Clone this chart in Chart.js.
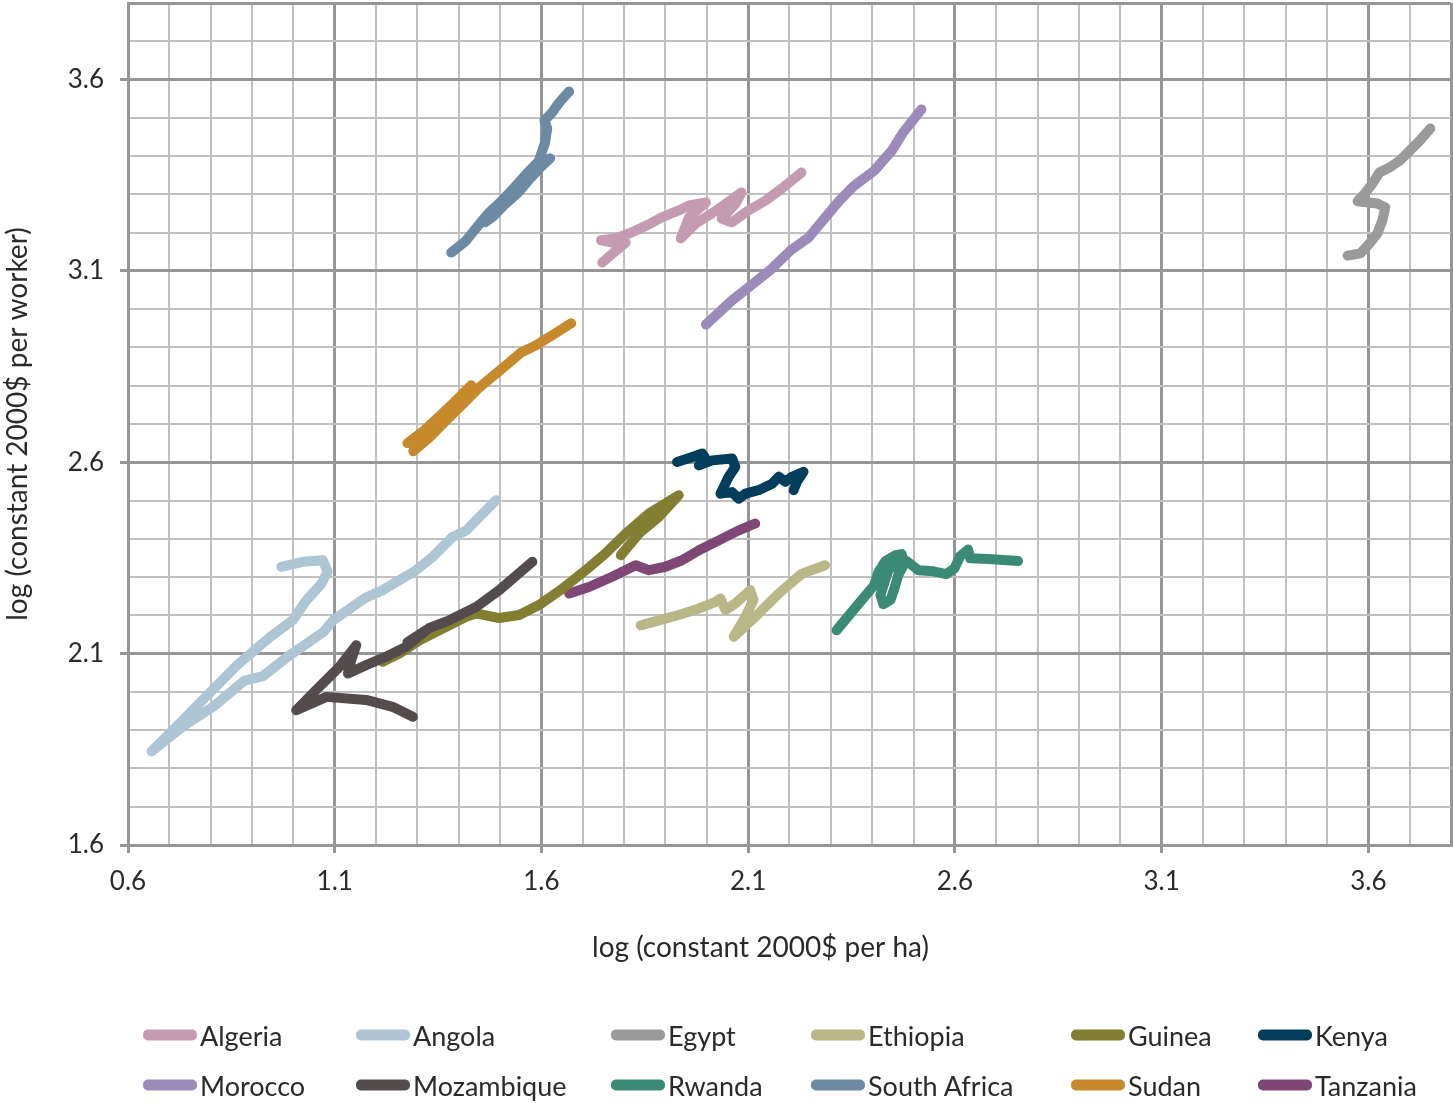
<!DOCTYPE html>
<html>
<head>
<meta charset="utf-8">
<script src="https://cdn.jsdelivr.net/npm/chart.js@4.4.1/dist/chart.umd.min.js"></script>
<style>
  html, body { margin: 0; padding: 0; background: #ffffff; }
  #wrap { position: relative; width: 1453px; height: 1103px; }
  #legend .item {
    position: absolute; display: flex; align-items: center;
    font: 27px Lato, "Noto Sans", sans-serif; color: #2a2a2a; white-space: nowrap;
    transform: translateY(-50%);
  }
  #legend .swatch { width: 54px; height: 11px; border-radius: 5px; margin-right: 3px; }
</style>
</head>
<body>
<div id="wrap">
  <canvas id="chart" width="1453" height="1103"></canvas>
  <div id="legend"></div>
</div>
<script>
// Land productivity (x) against labour productivity (y), log scale values, per country path.
const countries = ['Algeria', 'Angola', 'Egypt', 'Ethiopia', 'Guinea', 'Kenya',
                   'Morocco', 'Mozambique', 'Rwanda', 'South Africa', 'Sudan', 'Tanzania'];

const xTickLabels = ['0.6', '1.1', '1.6', '2.1', '2.6', '3.1', '3.6'];
const yTickLabels = ['1.6', '2.1', '2.6', '3.1', '3.6'];

// [log $ per ha, log $ per worker]
const algeria = [[1.747,3.122],[1.775,3.148],[1.804,3.174],[1.771,3.174],[1.744,3.180],[1.780,3.185],
  [1.819,3.201],[1.855,3.219],[1.891,3.240],[1.932,3.258],[1.957,3.271],[1.998,3.279],[1.957,3.240],
  [1.937,3.185],[1.973,3.224],[2.012,3.250],[2.046,3.276],[2.084,3.305],[2.070,3.276],[2.036,3.237],
  [2.060,3.227],[2.101,3.258],[2.142,3.284],[2.181,3.315],[2.229,3.357]];
const angola = [[0.971,2.327],[1.023,2.340],[1.071,2.344],[1.083,2.314],[1.068,2.283],[1.030,2.237],
  [0.998,2.187],[0.943,2.143],[0.863,2.069],[0.798,1.998],[0.726,1.919],[0.657,1.845],[0.734,1.911],
  [0.808,1.963],[0.881,2.029],[0.926,2.041],[0.990,2.095],[1.073,2.157],[1.096,2.187],[1.173,2.245],
  [1.216,2.266],[1.297,2.318],[1.337,2.353],[1.385,2.405],[1.418,2.422],[1.490,2.501]];
const egypt = [[3.550,3.140],[3.581,3.146],[3.603,3.172],[3.622,3.198],[3.634,3.232],[3.641,3.266],
  [3.622,3.276],[3.574,3.282],[3.591,3.302],[3.610,3.328],[3.627,3.357],[3.651,3.370],[3.677,3.389],
  [3.701,3.415],[3.725,3.441],[3.750,3.472]];
const ethiopia = [[1.840,2.174],[1.884,2.187],[1.932,2.201],[1.981,2.218],[2.021,2.235],[2.033,2.244],
  [2.045,2.214],[2.069,2.231],[2.105,2.266],[2.113,2.240],[2.093,2.196],[2.065,2.144],[2.117,2.196],
  [2.174,2.257],[2.230,2.309],[2.286,2.331]];
const guinea = [[1.216,2.079],[1.257,2.101],[1.305,2.135],[1.353,2.161],[1.418,2.196],[1.442,2.205],
  [1.498,2.193],[1.546,2.201],[1.594,2.227],[1.651,2.270],[1.707,2.318],[1.755,2.362],[1.804,2.414],
  [1.860,2.466],[1.932,2.514],[1.884,2.457],[1.836,2.414],[1.792,2.357]];
const kenya = [[1.928,2.601],[1.965,2.614],[1.989,2.623],[1.997,2.610],[1.981,2.592],[2.013,2.605],
  [2.061,2.610],[2.069,2.588],[2.053,2.562],[2.033,2.518],[2.061,2.522],[2.077,2.505],[2.093,2.518],
  [2.125,2.527],[2.158,2.544],[2.174,2.562],[2.190,2.549],[2.206,2.562],[2.234,2.575],[2.218,2.549],
  [2.210,2.527]];
const morocco = [[1.998,2.960],[2.060,3.022],[2.101,3.057],[2.152,3.101],[2.203,3.154],[2.246,3.187],
  [2.287,3.240],[2.321,3.284],[2.355,3.321],[2.405,3.362],[2.448,3.415],[2.473,3.459],[2.519,3.522]];
const mozambique = [[1.289,1.935],[1.240,1.961],[1.176,1.979],[1.080,1.987],[1.007,1.952],[1.055,2.005],
  [1.112,2.066],[1.152,2.122],[1.140,2.083],[1.132,2.048],[1.176,2.070],[1.224,2.092],[1.273,2.118],
  [1.321,2.161],[1.276,2.130],[1.329,2.167],[1.377,2.187],[1.442,2.222],[1.498,2.266],[1.578,2.340]];
const rwanda = [[2.314,2.161],[2.350,2.208],[2.381,2.248],[2.405,2.279],[2.415,2.313],[2.432,2.342],
  [2.456,2.357],[2.471,2.360],[2.478,2.336],[2.463,2.305],[2.454,2.271],[2.444,2.240],[2.427,2.229],
  [2.420,2.253],[2.430,2.287],[2.439,2.318],[2.456,2.334],[2.483,2.342],[2.500,2.328],[2.512,2.318],
  [2.548,2.315],[2.579,2.308],[2.599,2.323],[2.613,2.355],[2.632,2.372],[2.637,2.349],[2.681,2.347],
  [2.753,2.342]];
const southAfrica = [[1.382,3.148],[1.416,3.177],[1.445,3.216],[1.474,3.253],[1.505,3.284],[1.537,3.321],
  [1.565,3.355],[1.590,3.383],[1.621,3.394],[1.597,3.370],[1.573,3.342],[1.544,3.305],[1.512,3.274],
  [1.483,3.242],[1.464,3.227],[1.498,3.263],[1.534,3.297],[1.570,3.342],[1.594,3.389],[1.609,3.436],
  [1.614,3.472],[1.607,3.493],[1.626,3.514],[1.643,3.540],[1.667,3.569]];
const sudan = [[1.276,2.650],[1.317,2.684],[1.358,2.725],[1.397,2.765],[1.430,2.801],[1.416,2.767],
  [1.380,2.731],[1.343,2.689],[1.305,2.650],[1.290,2.629],[1.329,2.665],[1.370,2.710],[1.409,2.751],
  [1.445,2.791],[1.479,2.822],[1.517,2.856],[1.551,2.887],[1.587,2.906],[1.626,2.932],[1.672,2.963]];
const tanzania = [[1.667,2.257],[1.715,2.274],[1.771,2.301],[1.828,2.331],[1.860,2.318],[1.900,2.327],
  [1.940,2.344],[1.981,2.370],[2.029,2.396],[2.077,2.422],[2.117,2.440]];

const seriesPoints = [algeria, angola, egypt, ethiopia, guinea, kenya,
                      morocco, mozambique, rwanda, southAfrica, sudan, tanzania];

const palette = {
  'Algeria': '#c59bb2', 'Angola': '#aec5d3', 'Egypt': '#9a9a9a', 'Ethiopia': '#b9b687',
  'Guinea': '#827f33', 'Kenya': '#023e5c', 'Morocco': '#9b8aba', 'Mozambique': '#544c4c',
  'Rwanda': '#3a8a76', 'South Africa': '#6c8aa3', 'Sudan': '#c6892c', 'Tanzania': '#7f4775'
};

const TEXT = '#2a2a2a';
const MAJOR = '#969696';
const MINOR = '#c0c0c0';
const PATH_WIDTH = 10;

function isMajor(value, labels, edge) {
  const s = value.toFixed(1);
  return labels.includes(s) || s === edge;
}

// Draws the horizontal axis caption slightly left of the plot centre
const axisCaption = {
  id: 'axisCaption',
  afterDraw(chart, args, opts) {
    const { ctx, chartArea } = chart;
    ctx.save();
    ctx.font = opts.font;
    ctx.fillStyle = opts.color;
    ctx.textAlign = 'center';
    ctx.textBaseline = 'middle';
    ctx.fillText(opts.text, (chartArea.left + chartArea.right) / 2 + opts.shift, chartArea.bottom + opts.gap);
    ctx.restore();
  }
};

const datasets = countries.map((name, i) => ({
  label: name,
  data: seriesPoints[i].map(([x, y]) => ({ x, y })),
  borderColor: palette[name],
  backgroundColor: palette[name],
  showLine: true,
  pointRadius: 0,
  pointHoverRadius: 0,
  borderWidth: PATH_WIDTH,
  borderCapStyle: 'round',
  borderJoinStyle: 'round',
  tension: 0,
  order: name === 'Mozambique' ? -1 : 0
}));

new Chart(document.getElementById('chart'), {
  type: 'scatter',
  data: { datasets },
  plugins: [axisCaption],
  options: {
    responsive: false,
    animation: false,
    devicePixelRatio: 1,
    elements: { line: { borderWidth: PATH_WIDTH, borderCapStyle: 'round', borderJoinStyle: 'round' } },
    layout: { padding: { top: 3, right: 2, left: 0, bottom: 139 } },
    plugins: {
      legend: { display: false },
      tooltip: { enabled: false },
      axisCaption: {
        text: 'log (constant 2000$ per ha)',
        font: '28px Lato, "Noto Sans", sans-serif',
        color: TEXT, shift: -29, gap: 103
      }
    },
    scales: {
      x: {
        type: 'linear', min: 0.6, max: 3.8,
        afterFit(scale) { scale.height = 119; scale.paddingRight = 0; },
        ticks: {
          stepSize: 0.1, autoSkip: false, maxRotation: 0, padding: 13,
          color: TEXT, font: { family: 'Lato', size: 26 },
          callback: (v) => xTickLabels.includes(Number(v).toFixed(1)) ? Number(v).toFixed(1) : ''
        },
        grid: {
          color: (c) => isMajor(c.tick.value, xTickLabels, '3.8') ? MAJOR : MINOR,
          lineWidth: (c) => isMajor(c.tick.value, xTickLabels, '3.8') ? 3 : 2,
          tickColor: (c) => xTickLabels.includes(c.tick.value.toFixed(1)) ? MAJOR : 'rgba(0,0,0,0)',
          tickLength: 8, tickWidth: 3
        },
        border: { display: true, color: MAJOR, width: 3 },
        title: { display: false }
      },
      y: {
        type: 'linear', min: 1.6, max: 3.8,
        afterFit(scale) { scale.width = 128; scale.paddingTop = 0; scale.paddingBottom = 0; },
        ticks: {
          stepSize: 0.1, autoSkip: false, padding: 16,
          color: TEXT, font: { family: 'Lato', size: 26 },
          callback: (v) => yTickLabels.includes(Number(v).toFixed(1)) ? Number(v).toFixed(1) : ''
        },
        grid: {
          color: (c) => isMajor(c.tick.value, yTickLabels, '3.8') ? MAJOR : MINOR,
          lineWidth: (c) => isMajor(c.tick.value, yTickLabels, '3.8') ? 3 : 2,
          tickColor: (c) => yTickLabels.includes(c.tick.value.toFixed(1)) ? MAJOR : 'rgba(0,0,0,0)',
          tickLength: 8, tickWidth: 3
        },
        border: { display: true, color: MAJOR, width: 3 },
        title: {
          display: true, text: 'log (constant 2000$ per worker)',
          color: TEXT, font: { family: 'Lato', size: 28 }, padding: { top: 1, bottom: 0 }
        }
      }
    }
  }
});

// Legend: two rows of six entries in fixed columns
const legendCols = [143, 356, 611, 811, 1071, 1258];
const legendRows = [1035, 1085];
const legend = document.getElementById('legend');
countries.forEach((name, i) => {
  const item = document.createElement('div');
  item.className = 'item';
  item.style.left = legendCols[i % 6] + 'px';
  item.style.top = legendRows[Math.floor(i / 6)] + 'px';
  const sw = document.createElement('span');
  sw.className = 'swatch';
  sw.style.background = palette[name];
  const label = document.createElement('span');
  label.textContent = name;
  item.appendChild(sw);
  item.appendChild(label);
  legend.appendChild(item);
});
</script>
</body>
</html>
